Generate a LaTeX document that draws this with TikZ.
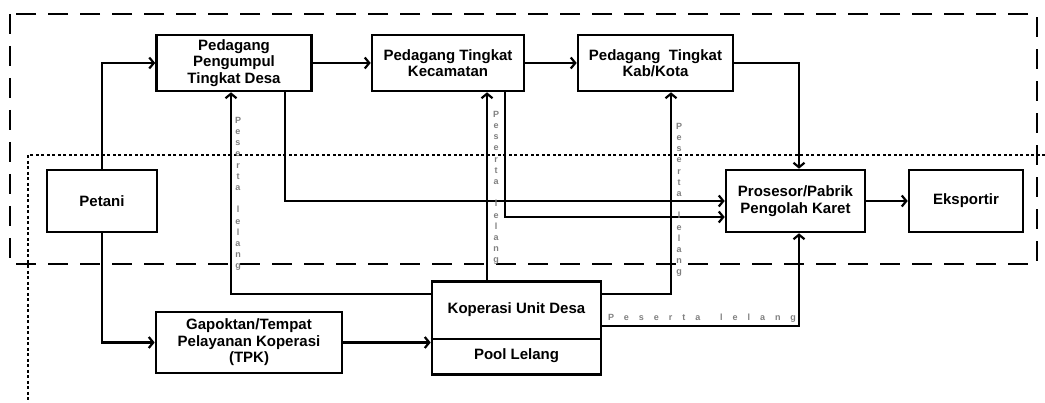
\documentclass[tikz,border=0pt]{standalone}
\usepackage{fontspec}
\setmainfont{Liberation Sans}
\usetikzlibrary{arrows.meta}
\tikzset{
  box/.style={draw, line width=2.6pt, rectangle, align=center, inner sep=2pt,
    font=\bfseries\fontsize{15}{16.5}\selectfont},
  arr/.style={line width=2.6pt, -{Straight Barb[length=4.5pt,width=11pt,line width=2.2pt]}},
  vlabel/.style={text=black!50, align=center, inner sep=0pt,
    font=\bfseries\fontsize{9}{11.2}\selectfont},
  hlabel/.style={text=black!50, inner sep=0pt, font=\bfseries\fontsize{9}{10}\selectfont},
  outerframe/.style={line width=2.4pt, dash pattern=on 20pt off 12pt},
  innerframe/.style={line width=2.2pt, dash pattern=on 3pt off 2.5pt}
}
\begin{document}
\begin{tikzpicture}[x=1pt,y=-1pt]
\useasboundingbox (0,0) rectangle (1045,403);
% frames
\draw[outerframe] (10,14) rectangle (1037,264);
\draw[innerframe] (1045,155) -- (28,155) -- (28,403);
% nodes
\node[box, minimum width=155pt, minimum height=56pt] (pdesa) at (234,63) {Pedagang\\Pengumpul\\Tingkat Desa};
\node[box, minimum width=152pt, minimum height=56pt] (pkec) at (448,63) {Pedagang Tingkat\\Kecamatan};
\node[box, minimum width=155pt, minimum height=56pt] (pkab) at (655.5,63) {Pedagang\ \ Tingkat\\Kab/Kota};
\node[box, minimum width=110pt, minimum height=62pt] (petani) at (102,201) {Petani};
\node[box, minimum width=139pt, minimum height=62pt] (pros) at (795.5,201) {Prosesor/Pabrik\\Pengolah Karet};
\node[box, minimum width=114pt, minimum height=62pt] (eks) at (966,201) {Eksportir};
\node[box, minimum width=186pt, minimum height=61pt] (gap) at (249,342.5) {Gapoktan/Tempat\\Pelayanan Koperasi\\(TPK)};
\node[box, minimum width=169pt, minimum height=93pt, anchor=north] (kudbox) at (516.5,280) {};
\node[font=\bfseries\fontsize{15}{16.5}\selectfont] (kud) at (516.5,309.5) {Koperasi Unit Desa};
\node[font=\bfseries\fontsize{15}{16.5}\selectfont] (pool) at (516.5,356) {Pool Lelang};
\draw[line width=2.6pt] (kudbox.west |- 0,339) -- (kudbox.east |- 0,339);
% connectors
\draw[arr] (petani.north) |- (pdesa.west);
\draw[arr] (petani.south) |- (gap.west);
\draw[arr] (pdesa.east) -- (pkec.west);
\draw[arr] (pkec.east) -- (pkab.west);
\draw[arr] (pkab.east) -| ([xshift=3.5pt]pros.north);
\draw[arr] ([xshift=51pt]pdesa.south) |- (pros.west);
\draw[arr] ([xshift=57pt]pkec.south) |- ([yshift=-16pt]pros.west);
\draw[arr] ([xshift=-29.5pt]kudbox.north) -- ([xshift=39pt]pkec.south);
\draw[arr] (kudbox.west |- 0,294) -| ([xshift=-3pt]pdesa.south);
\draw[arr] (kudbox.east |- 0,294) -| ([xshift=15.5pt]pkab.south);
\draw[arr] (kudbox.east |- 0,326) -| ([xshift=3.5pt]pros.south);
\draw[arr] (gap.east) -- (gap.east -| kudbox.west);
\draw[arr] (pros.east) -- (eks.west);
% labels
\node[vlabel] (lab1) at (238,194) {P\\e\\s\\e\\r\\t\\a\\[11.2pt]l\\e\\l\\a\\n\\g};
\node[vlabel] (lab2) at (496,188) {P\\e\\s\\e\\r\\t\\a\\[11.2pt]l\\e\\l\\a\\n\\g};
\node[vlabel] (lab3) at (679,200) {P\\e\\s\\e\\r\\t\\a\\[11.2pt]l\\e\\l\\a\\n\\g};
\node[hlabel] (lab4) at (702,318) {\makebox[188pt][s]{P\hfill e\hfill s\hfill e\hfill r\hfill t\hfill a\hfill\hfill l\hfill e\hfill l\hfill a\hfill n\hfill g}};
\end{tikzpicture}
\end{document}
